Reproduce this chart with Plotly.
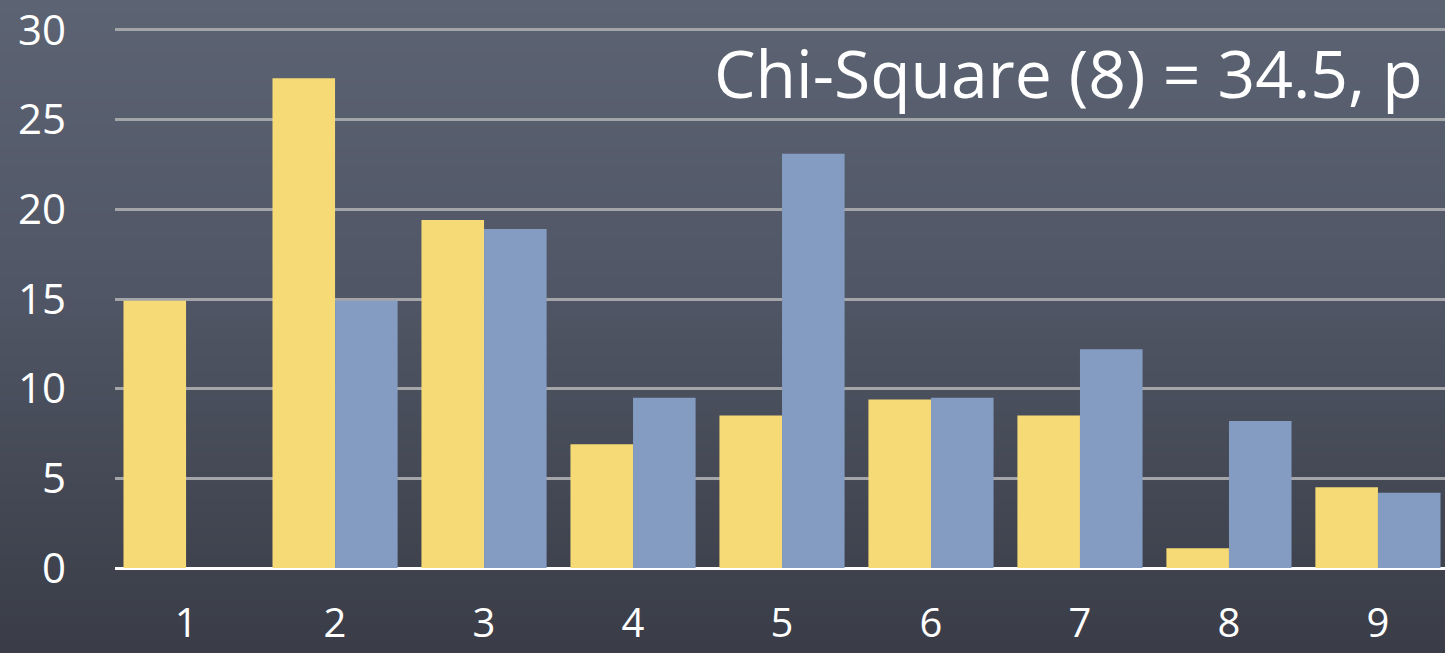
import base64
import struct
import zlib

import plotly.graph_objects as go

# Data
categories = [1, 2, 3, 4, 5, 6, 7, 8, 9]
observed = [14.9, 27.3, 19.4, 6.9, 8.5, 9.4, 8.5, 1.1, 4.5]
expected = [None, 14.9, 18.9, 9.5, 23.1, 9.5, 12.2, 8.2, 4.2]
y_ticks = [0, 5, 10, 15, 20, 25, 30]
stat_text = "Chi-Square (8) = 34.5, p"

# Figure geometry
W, H = 1445, 653
M_L, M_R, M_T, M_B = 115, 0, 12, 67
FONT = "Open Sans"


def gradient_png(stops, height=128):
    """Build a 1-px wide vertical gradient PNG from (pos, (r,g,b)) stops."""
    rows = b""
    for i in range(height):
        t = i / (height - 1)
        for (p0, c0), (p1, c1) in zip(stops, stops[1:]):
            if p0 <= t <= p1:
                f = (t - p0) / (p1 - p0) if p1 > p0 else 0
                c = tuple(int(round(a + (b - a) * f)) for a, b in zip(c0, c1))
                break
        rows += b"\x00" + bytes(c)

    def chunk(tag, data):
        return (struct.pack(">I", len(data)) + tag + data
                + struct.pack(">I", zlib.crc32(tag + data) & 0xFFFFFFFF))

    png = b"\x89PNG\r\n\x1a\n"
    png += chunk(b"IHDR", struct.pack(">IIBBBBB", 1, height, 8, 2, 0, 0, 0))
    png += chunk(b"IDAT", zlib.compress(rows))
    png += chunk(b"IEND", b"")
    return "data:image/png;base64," + base64.b64encode(png).decode()


bg = gradient_png([
    (0.0, (0x5c, 0x63, 0x73)),
    (0.45, (0x50, 0x56, 0x65)),
    (1.0, (0x3a, 0x3d, 0x47)),
])

fig = go.Figure()
fig.add_trace(go.Bar(x=categories, y=observed, marker=dict(color="#f5da75", line_width=0),
                     name="observed"))
fig.add_trace(go.Bar(x=categories, y=expected, marker=dict(color="#849cc2", line_width=0),
                     name="expected"))

plot_w = W - M_L - M_R
plot_h = H - M_T - M_B

fig.update_layout(
    width=W, height=H,
    margin=dict(l=M_L, r=M_R, t=M_T, b=M_B, pad=0, autoexpand=False),
    barmode="group", bargap=0.16, bargroupgap=0,
    showlegend=False,
    paper_bgcolor="#4b505e",
    plot_bgcolor="rgba(0,0,0,0)",
    font=dict(family=FONT, color="white", size=42),
    images=[dict(
        source=bg, xref="paper", yref="paper",
        x=-M_L / plot_w, y=1 + M_T / plot_h,
        sizex=W / plot_w, sizey=H / plot_h,
        sizing="stretch", xanchor="left", yanchor="top",
        layer="below",
    )],
    xaxis=dict(
        range=[0.523, 9.45], tickmode="array", tickvals=categories,
        ticktext=[str(c) for c in categories],
        showgrid=False, zeroline=False, showline=False, ticks="",
        automargin=False, ticklabelstandoff=10, ticklabeloverflow="allow",
        tickfont=dict(family=FONT, size=40, color="white"),
    ),
    yaxis=dict(
        range=[-1, 31], tickmode="array", tickvals=y_ticks,
        ticktext=[str(v) for v in y_ticks],
        showgrid=True, gridcolor="#a4a5a8", gridwidth=2.5,
        zeroline=True, zerolinecolor="#ffffff", zerolinewidth=3,
        showline=False, ticks="", automargin=False, ticklabelstandoff=48,
        ticklabeloverflow="allow",
        tickfont=dict(family=FONT, size=42, color="white"),
    ),
    annotations=[dict(
        text=stat_text, xref="paper", yref="paper",
        x=(712 - M_L) / plot_w, y=1 - (72 - M_T) / plot_h,
        xanchor="left", yanchor="middle", showarrow=False,
        font=dict(family=FONT, size=66, color="white"),
    )],
)

fig.write_html("out.html")
